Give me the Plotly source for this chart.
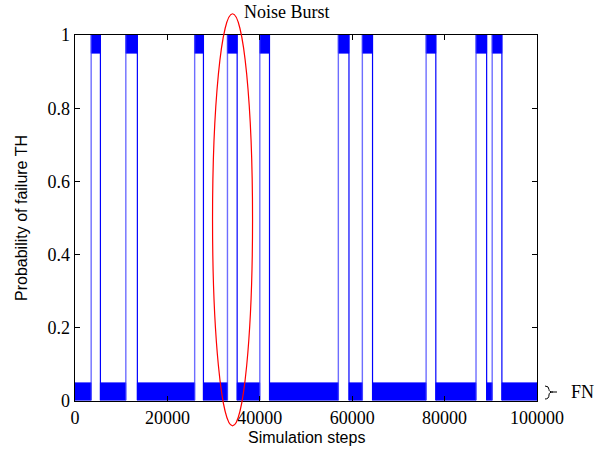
import plotly.graph_objects as go

# ---- data ----
burst_start = [3500, 11000, 25900, 33000, 40000, 57000, 62200, 76000, 86800, 90300]
burst_end = [5500, 13500, 27800, 35100, 42100, 59300, 64400, 78100, 89100, 92400]
x_min, x_max = 0, 100000
low_band = [0.002, 0.05]     # false-negative noise band (FN)
high_band = [0.95, 1.0]      # noise-burst level
x_ticks = [0, 20000, 40000, 60000, 80000, 100000]
x_tick_text = ["0", "20000", "40000", "60000", "80000", "100000"]
y_ticks = [0, 0.2, 0.4, 0.6, 0.8, 1.0]
y_tick_text = ["0", "0.2", "0.4", "0.6", "0.8", "1"]
ellipse_center = [34100, 0.495]
ellipse_radius = [4330, 0.563]

# ---- geometry ----
W, H = 598, 452
L, R, T, B = 75, 61, 35, 51
pw, ph = W - L - R, H - T - B


def px2paper(px, py):
    return (px - L) / pw, (H - B - py) / ph


# low segments between bursts, high segments inside bursts
bounds = [x_min] + [v for pair in zip(burst_start, burst_end) for v in pair] + [x_max]
low_segs = [(bounds[i], bounds[i + 1]) for i in range(0, len(bounds), 2)]
high_segs = list(zip(burst_start, burst_end))


def band_poly(segs, lo, hi):
    xs, ys = [], []
    for a, b in segs:
        xs += [a, b, b, a, a, None]
        ys += [lo, lo, hi, hi, lo, None]
    return xs, ys


fig = go.Figure()
lx, ly = band_poly(low_segs, low_band[0], low_band[1])
fig.add_trace(go.Scatter(x=lx, y=ly, mode="lines", fill="toself", fillcolor="#0000ff",
                         line=dict(color="#0000ff", width=0.6), hoverinfo="skip", showlegend=False))
hx, hy = band_poly(high_segs, high_band[0], high_band[1])
fig.add_trace(go.Scatter(x=hx, y=hy, mode="lines", fill="toself", fillcolor="#0000ff",
                         line=dict(color="#0000ff", width=0.6), hoverinfo="skip", showlegend=False))

rx, ry = [], []
for s in burst_start:
    rx += [s, s, None]
    ry += [low_band[0], high_band[1], None]
fig.add_trace(go.Scatter(x=rx, y=ry, mode="lines", line=dict(color="rgba(60,60,255,0.75)", width=1.4),
                         hoverinfo="skip", showlegend=False))
fx, fy = [], []
for e in burst_end:
    fx += [e, e, None]
    fy += [low_band[0], high_band[1], None]
fig.add_trace(go.Scatter(x=fx, y=fy, mode="lines", line=dict(color="#0000ff", width=1.2),
                         hoverinfo="skip", showlegend=False))

# ellipse marking the noise burst (paper coords so it may leave the plot area)
ex0 = (ellipse_center[0] - ellipse_radius[0] - x_min) / (x_max - x_min)
ex1 = (ellipse_center[0] + ellipse_radius[0] - x_min) / (x_max - x_min)
ey0 = ellipse_center[1] - ellipse_radius[1]
ey1 = ellipse_center[1] + ellipse_radius[1]
fig.add_shape(type="circle", xref="paper", yref="paper", x0=ex0, x1=ex1, y0=ey0, y1=ey1,
              line=dict(color="#ff0000", width=1.2), layer="above")

# brace for FN
pts = {
    "a": px2paper(545, 386), "c1": px2paper(549, 386), "b": px2paper(549, 389.5),
    "c2": px2paper(549, 392), "m": px2paper(553, 392), "t": px2paper(557, 392),
    "c3": px2paper(549, 392), "d": px2paper(549, 395), "c4": px2paper(549, 399),
    "e": px2paper(545, 399),
}
def P(k):
    return f"{pts[k][0]:.5f},{pts[k][1]:.5f}"
path = (f"M {P('a')} Q {P('c1')} {P('b')} Q {P('c2')} {P('m')} L {P('t')} "
        f"M {P('m')} Q {P('c3')} {P('d')} Q {P('c4')} {P('e')}")
fig.add_shape(type="path", xref="paper", yref="paper", path=path,
              line=dict(color="black", width=1))

serif = "Liberation Serif, Times New Roman, serif"
sans = "Liberation Sans, Arial, sans-serif"

nx, ny = px2paper(242, 12)
fig.add_annotation(x=nx, y=ny, xref="paper", yref="paper", text="Noise Burst", showarrow=False,
                   xanchor="left", yanchor="middle", font=dict(family=serif, size=18, color="black"))
fx_, fy_ = px2paper(569, 392)
fig.add_annotation(x=fx_, y=fy_, xref="paper", yref="paper", text="FN", showarrow=False,
                   xanchor="left", yanchor="middle", font=dict(family=serif, size=18, color="black"))
tx, ty = px2paper(306, 437)
fig.add_annotation(x=0.5, y=ty, xref="paper", yref="paper", text="Simulation steps", showarrow=False,
                   xanchor="center", yanchor="middle", font=dict(family=sans, size=16, color="black"))
yx, yy = px2paper(21, 218)
fig.add_annotation(x=yx, y=0.5, xref="paper", yref="paper", text="Probability of failure TH",
                   showarrow=False, textangle=-90, xanchor="center", yanchor="middle",
                   font=dict(family=sans, size=16, color="black"))

axis_common = dict(showline=True, linecolor="black", linewidth=1.3, mirror="ticks",
                   ticks="inside", ticklen=5, tickwidth=1, tickcolor="black",
                   showgrid=False, zeroline=False,
                   tickfont=dict(family=serif, size=18, color="black"))
fig.update_xaxes(range=[x_min, x_max], tickvals=x_ticks, ticktext=x_tick_text, **axis_common)
fig.update_yaxes(range=[0, 1], tickvals=y_ticks, ticktext=y_tick_text, **axis_common)

fig.update_layout(width=W, height=H, margin=dict(l=L, r=R, t=T, b=B, autoexpand=False),
                  paper_bgcolor="white", plot_bgcolor="white", showlegend=False)

fig.write_html("out.html", config={"displayModeBar": False, "staticPlot": True},
               post_script="document.body.style.margin='0';document.body.style.padding='0';"
                           "document.documentElement.style.overflow='hidden';")
